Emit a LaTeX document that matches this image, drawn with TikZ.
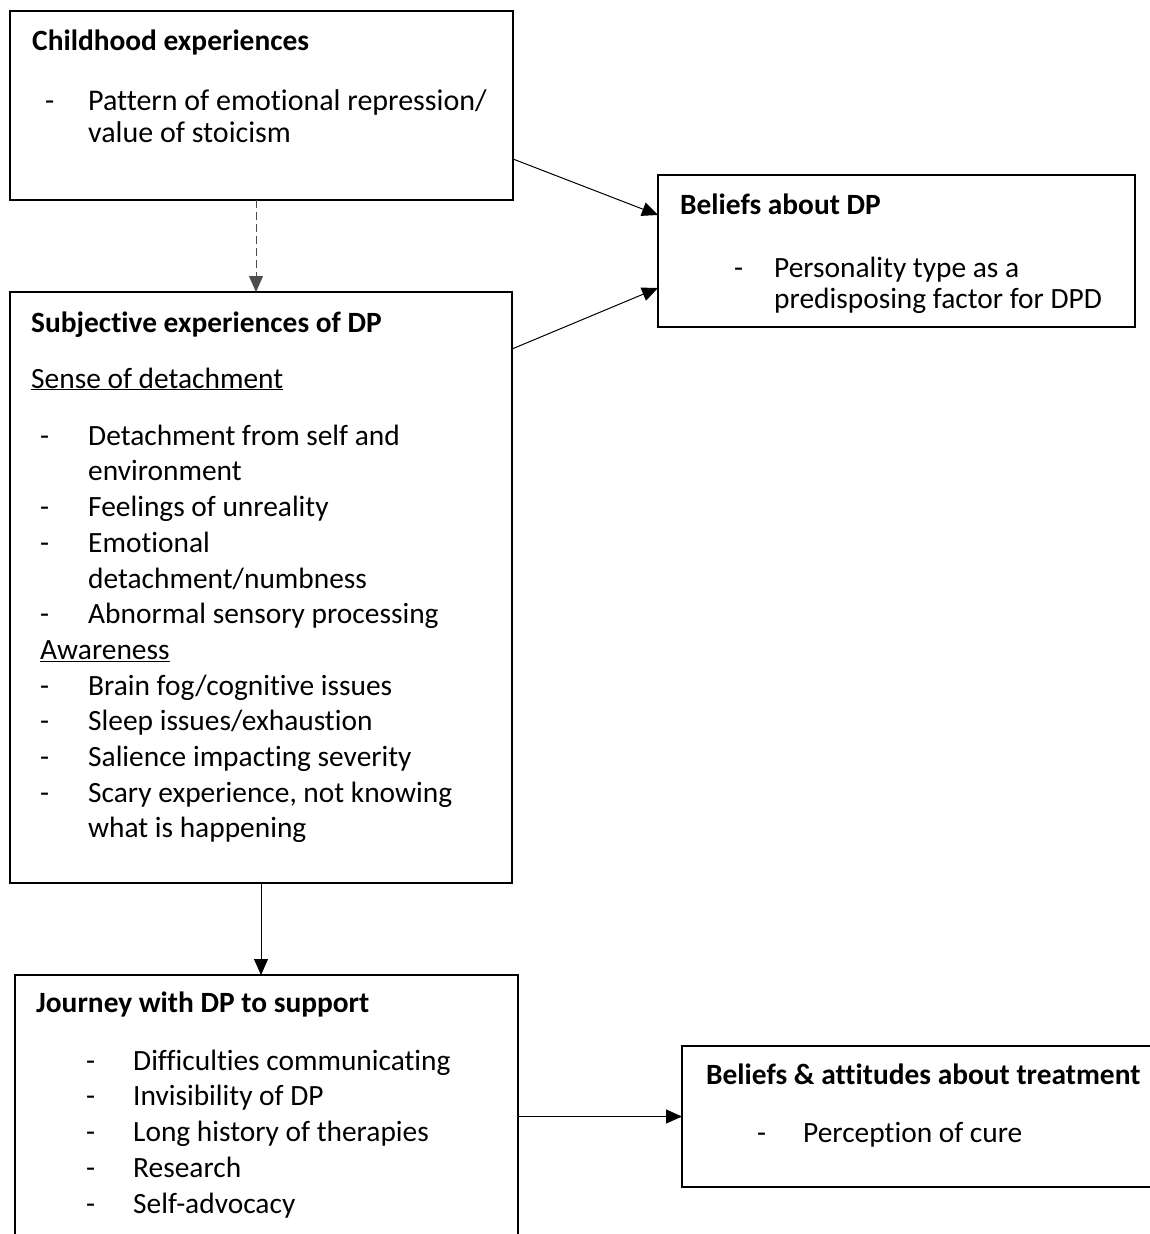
\documentclass[tikz,border=0pt]{standalone}
\usepackage{fontspec}
\setmainfont{Carlito}[Ligatures={NoCommon}]
\usetikzlibrary{arrows.meta}
\begin{document}
\begin{tikzpicture}[x=1pt,y=-1pt,
  box/.style={draw=black, line width=2.2pt, rectangle, inner sep=0pt, outer sep=0pt, anchor=north west},
  head/.style={anchor=base west, inner sep=0pt, font=\fontsize{29.4}{35.7}\selectfont\bfseries},
  ln/.style={anchor=base west, inner sep=0pt, font=\fontsize{29.4}{35.7}\selectfont},
  blk/.style={anchor=north west, inner sep=0pt, align=left},
  conn/.style={line width=1pt, -{Triangle[length=16pt,width=14pt]}},
  dconn/.style={conn, draw=black!70, dash pattern=on 8pt off 4pt}
]
\useasboundingbox (0,0) rectangle (1150,1234);
\clip (0,0) rectangle (1150,1234);

% boxes
\node[box, minimum width=503pt, minimum height=189pt] (b1) at (10,11) {};
\node[box, minimum width=502pt, minimum height=591pt] (b2) at (10,292) {};
\node[box, minimum width=503pt, minimum height=330pt] (b3) at (15,975) {};
\node[box, minimum width=477pt, minimum height=152pt] (b4) at (658,175) {};
\node[box, minimum width=520pt, minimum height=141pt] (b5) at (682,1046) {};

% box 1
\node[head] (h1) at (32,50) {Childhood experiences};
\node[blk, font=\fontsize{30}{32}\selectfont] (l1) at (45,87.6)
  {\strut\makebox[43pt][l]{-}Pattern of emotional repression/\\
   \strut\hspace*{43pt}value of stoicism};

% box 2
\node[head] (h2) at (31,332) {Subjective experiences of DP};
\node[ln] (s2) at (31,388) {\underline{Sense of detachment}};
\node[blk, font=\fontsize{29.4}{35.7}\selectfont] (l2) at (40,420)
  {\strut\makebox[48pt][l]{-}Detachment from self and\\
   \strut\hspace*{48pt}environment\\
   \strut\makebox[48pt][l]{-}Feelings of unreality\\
   \strut\makebox[48pt][l]{-}Emotional\\
   \strut\hspace*{48pt}detachment/numbness\\
   \strut\makebox[48pt][l]{-}Abnormal sensory processing\\
   \strut\underline{Awareness}\\
   \strut\makebox[48pt][l]{-}Brain fog/cognitive issues\\
   \strut\makebox[48pt][l]{-}Sleep issues/exhaustion\\
   \strut\makebox[48pt][l]{-}Salience impacting severity\\
   \strut\makebox[48pt][l]{-}Scary experience, not knowing\\
   \strut\hspace*{48pt}what is happening};

% box 3
\node[head] (h3) at (36,1012) {Journey with DP to support};
\node[blk, font=\fontsize{29.4}{35.7}\selectfont] (l3) at (86,1045)
  {\strut\makebox[47pt][l]{-}Difficulties communicating\\
   \strut\makebox[47pt][l]{-}Invisibility of DP\\
   \strut\makebox[47pt][l]{-}Long history of therapies\\
   \strut\makebox[47pt][l]{-}Research\\
   \strut\makebox[47pt][l]{-}Self-advocacy};

% box 4
\node[head] (h4) at (680,214) {Beliefs about DP};
\node[blk, font=\fontsize{29.4}{31}\selectfont] (l4) at (734,255.3)
  {\strut\makebox[40pt][l]{-}Personality type as a\\
   \strut\hspace*{40pt}predisposing factor for DPD};

% box 5
\node[head] (h5) at (706,1084) {Beliefs \& attitudes about treatment};
\node[ln] (l5) at (757,1142) {\makebox[46pt][l]{-}Perception of cure};

% connectors
\draw[conn] ([yshift=41pt]b1.south east) -- ([yshift=-40pt]b4.north west);
\draw[conn] ([yshift=-57pt]b2.north east) -- ([yshift=39pt]b4.south west);
\coordinate (ds) at ([xshift=-5.5pt]b1.south);
\draw[dconn] (ds) -- (ds |- b2.north);
\draw[conn] (b2.south) -- (b2.south |- b3.north);
\draw[conn] (b5.west -| b3.east) -- (b5.west);
\end{tikzpicture}
\end{document}
